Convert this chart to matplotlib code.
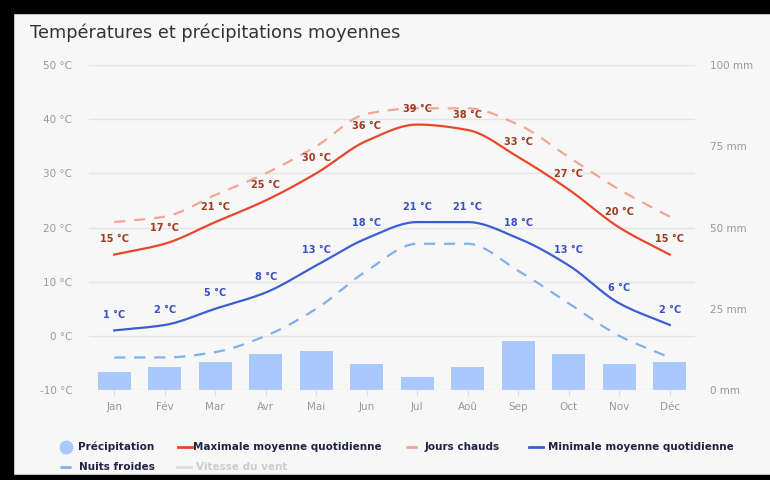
import matplotlib
matplotlib.use("Agg")
import matplotlib.pyplot as plt
import numpy as np
from matplotlib.lines import Line2D
from matplotlib.patches import Rectangle

months = ["Jan", "Fév", "Mar", "Avr", "Mai", "Jun", "Jul", "Aoû", "Sep", "Oct", "Nov", "Déc"]
t_max = [15, 17, 21, 25, 30, 36, 39, 38, 33, 27, 20, 15]
t_min = [1, 2, 5, 8, 13, 18, 21, 21, 18, 13, 6, 2]
hot_days = [21, 22, 26, 30, 35, 41, 42, 42, 39, 33, 27, 22]
cold_nights = [-4, -4, -3, 0, 5, 12, 17, 17, 12, 6, 0, -4]
precip_mm = [5.5, 7, 8.5, 11, 12, 8, 4, 7, 15, 11, 8, 8.5]

temp_ticks = [-10, 0, 10, 20, 30, 40, 50]
precip_ticks = [0, 25, 50, 75, 100]

BG = "#f7f7f7"
C_MAX, C_HOT = "#e8472b", "#f5a595"
C_MIN, C_COLD = "#3b5fd0", "#7fb1ec"
C_BAR = "#a9c8fc"
C_MAX_LBL, C_MIN_LBL = "#9a3b1d", "#3a4fc4"


def smooth(x, y, n=30):
    """Monotone cubic (Fritsch-Carlson) curve through the points, for drawing only."""
    x = np.asarray(x, float)
    y = np.asarray(y, float)
    h = np.diff(x)
    d = np.diff(y) / h
    m = np.zeros_like(y)
    m[0], m[-1] = d[0], d[-1]
    for k in range(1, len(y) - 1):
        if d[k - 1] * d[k] > 0:
            m[k] = 2 / (1 / d[k - 1] + 1 / d[k])
    xs, ys = [], []
    for k in range(len(x) - 1):
        t = np.linspace(0, 1, n, endpoint=False)
        h00 = 2 * t**3 - 3 * t**2 + 1
        h10 = t**3 - 2 * t**2 + t
        h01 = -2 * t**3 + 3 * t**2
        h11 = t**3 - t**2
        xs.append(x[k] + t * h[k])
        ys.append(h00 * y[k] + h10 * h[k] * m[k] + h01 * y[k + 1] + h11 * h[k] * m[k + 1])
    xs.append([x[-1]])
    ys.append([y[-1]])
    return np.concatenate(xs), np.concatenate(ys)


fig = plt.figure(figsize=(7.7, 4.8), dpi=100, facecolor=BG)
ax = fig.add_axes([89 / 770, 90 / 480, 606 / 770, 325 / 480])
ax.set_facecolor(BG)
ax2 = ax.twinx()

x = np.arange(len(months))

# precipitation bars on the right axis
ax2.bar(x, precip_mm, width=0.66, color=C_BAR, zorder=1)
ax2.set_ylim(0, 100)
ax2.set_yticks(precip_ticks)
ax2.set_yticklabels([f"{v} mm" for v in precip_ticks])
ax2.tick_params(axis="y", length=0, pad=11, labelsize=7.5, labelcolor="#999999")

ax.set_zorder(ax2.get_zorder() + 1)
ax.patch.set_visible(False)

for series, col, ls in [(hot_days, C_HOT, (0, (5, 4))), (cold_nights, C_COLD, (0, (5, 4))),
                        (t_max, C_MAX, "-"), (t_min, C_MIN, "-")]:
    sx, sy = smooth(x, series)
    ax.plot(sx, sy, color=col, lw=1.6, linestyle=ls, zorder=3)

for vals, col in [(t_max, C_MAX_LBL), (t_min, C_MIN_LBL)]:
    for xi, v in zip(x, vals):
        ax.annotate(f"{v} °C", (xi, v), xytext=(0, 11), textcoords="offset points",
                    ha="center", va="center", fontsize=7, fontweight="bold", color=col, zorder=4)

ax.set_xlim(-0.5, 11.5)
ax.set_ylim(-10, 50)
ax.set_yticks(temp_ticks)
ax.set_yticklabels([f"{v} °C" for v in temp_ticks])
ax.set_xticks(x)
ax.set_xticklabels(months)
ax.tick_params(axis="y", length=0, pad=12, labelsize=7.5, labelcolor="#999999")
ax.tick_params(axis="x", length=4, width=0.8, color="#dddddd", pad=5, labelsize=7.5,
               labelcolor="#999999")
ax.grid(axis="y", color="#e4e4e4", lw=1)
for a in (ax, ax2):
    for s in a.spines.values():
        s.set_visible(False)

fig.text(30 / 770, 1 - 33 / 480, "Températures et précipitations moyennes",
         fontsize=12.8, color="#333333", va="center", ha="left")

# legend, drawn by hand to keep the two-row layout: (kind, colour, label, symbol x, text x)
legend_rows = [
    (447, [("marker", C_BAR, "Précipitation", 60, 78),
           ("-", C_MAX, "Maximale moyenne quotidienne", 178, 193),
           ("--", C_HOT, "Jours chauds", 406, 425),
           ("-", C_MIN, "Minimale moyenne quotidienne", 529, 548)]),
    (467, [("--", C_COLD, "Nuits froides", 60, 79),
           ("-", "#dddddd", "Vitesse du vent", 177, 196)]),
]
for ypx, items in legend_rows:
    yf = 1 - ypx / 480
    for kind, col, label, sx_px, tx_px in items:
        txt_col = "#cccccc" if label == "Vitesse du vent" else "#222244"
        if kind == "marker":
            fig.add_artist(Line2D([(sx_px + 6) / 770], [yf], marker="o", markersize=9, color=col,
                                  linestyle="none"))
        else:
            fig.add_artist(Line2D([sx_px / 770, (sx_px + 14) / 770], [yf, yf], color=col, lw=2,
                                  linestyle=(0, (4, 3)) if kind == "--" else "-"))
        fig.text(tx_px / 770, yf, label, fontsize=7.5, fontweight="bold", color=txt_col,
                 va="center", ha="left")

# black screenshot frame
for rx, ry, rw, rh in [(0, 0, 13, 480), (0, 467, 770, 13), (0, 0, 770, 5)]:
    fig.add_artist(Rectangle((rx / 770, ry / 480), rw / 770, rh / 480, transform=fig.transFigure,
                             color="black", zorder=10))

fig.savefig("out.png", dpi=100, facecolor=BG)
